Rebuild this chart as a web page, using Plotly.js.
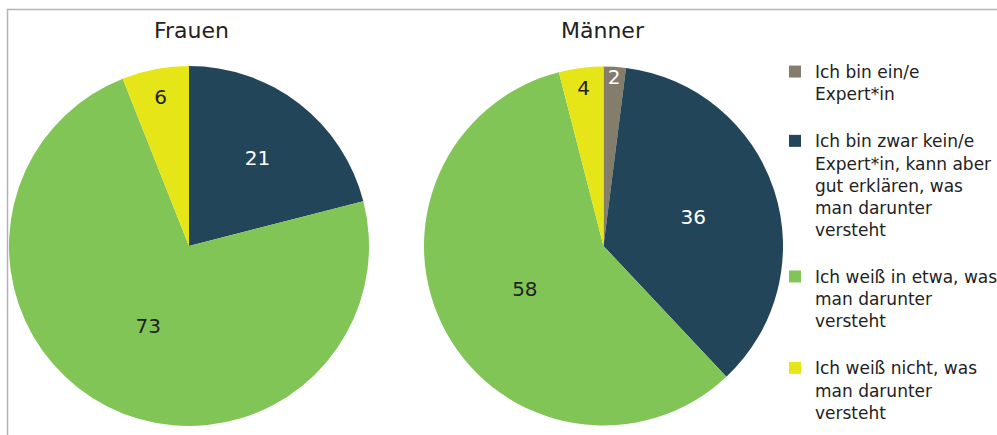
<!DOCTYPE html>
<html><head><meta charset="utf-8">
<script src="https://cdn.plot.ly/plotly-3.0.1.min.js"></script>
<style>html,body{margin:0;padding:0;background:#fff}#c{width:997px;height:435px}</style>
</head><body><div id="c"></div>
<script>
const categories = [
  "Ich bin ein/e<br>Expert*in<br> ",
  "Ich bin zwar kein/e<br>Expert*in, kann aber<br>gut erklären, was<br>man darunter<br>versteht<br> ",
  "Ich weiß in etwa, was<br>man darunter<br>versteht<br> ",
  "Ich weiß nicht, was<br>man darunter<br>versteht"
];
const groups = ["Frauen", "Männer"];
const frauenValues = [0, 21, 73, 6];
const maennerValues = [2, 36, 58, 4];
const colors = ["#857d6c", "#224559", "#81c556", "#e6e517"];
const textColors = ["#ffffff", "#ffffff", "#222222", "#222222"];
const FONT = "'DejaVu Sans', 'Noto Sans', sans-serif";

function pieTrace(values, domainX) {
  return {
    type: "pie", labels: categories, values: values, sort: false,
    direction: "clockwise", rotation: 0,
    text: values.map(v => v > 0 ? String(v) : ""),
    textinfo: "text", textposition: "inside", insidetextorientation: "horizontal",
    insidetextfont: {family: FONT, size: 20, color: textColors},
    marker: {colors: colors, line: {width: 0}},
    domain: {x: domainX, y: [9/435, 369/435]},
    hoverinfo: "label+value"
  };
}
const data = [
  pieTrace(frauenValues, [9/997, 369/997]),
  pieTrace(maennerValues, [424/997, 783/997])
];
const layout = {
  width: 997, height: 435,
  margin: {l: 0, r: 0, t: 0, b: 0, autoexpand: false},
  paper_bgcolor: "#ffffff",
  font: {family: FONT, color: "#222222"},
  uniformtext: {mode: "show", minsize: 20},
  showlegend: true,
  legend: {x: 775/997, y: 1 - 54/435, xanchor: "left", yanchor: "top",
    font: {family: FONT, size: 17, color: "#222222"}, valign: "top",
    traceorder: "normal", itemwidth: 30, bgcolor: "rgba(0,0,0,0)"},
  annotations: groups.map((g, i) => ({
    text: g, xref: "paper", yref: "paper",
    x: i === 0 ? 191/997 : 603/997, y: 1 - 30/435,
    xanchor: "center", yanchor: "middle", showarrow: false,
    font: {family: FONT, size: 22, color: "#222222"}
  })),
  shapes: [{type: "rect", xref: "paper", yref: "paper",
    x0: 7.5/997, x1: 1.2, y0: -0.2, y1: 1 - 9.5/435,
    line: {color: "#b4b4b4", width: 1.5}, layer: "below"}]
};
Plotly.newPlot("c", data, layout, {displayModeBar: false, staticPlot: true});
</script></body></html>
